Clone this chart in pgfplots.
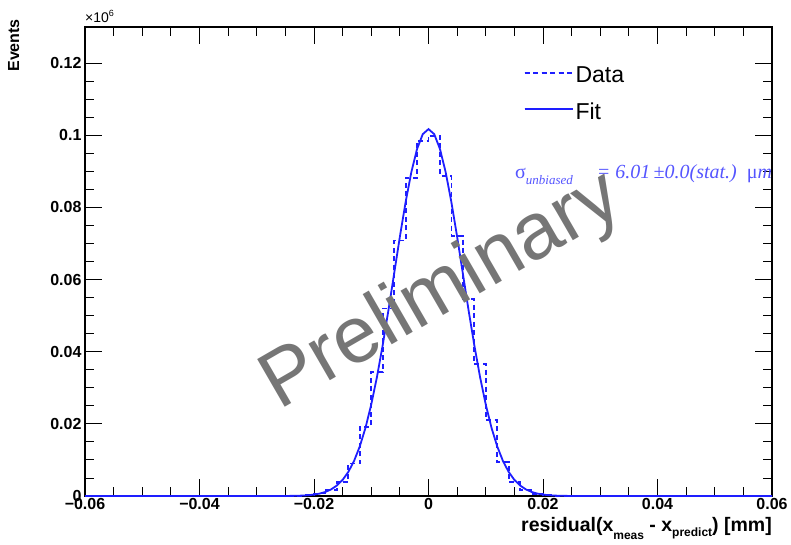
\documentclass[border=0pt]{standalone}
\usepackage{pgfplots}
\pgfplotsset{compat=1.18}
\usepackage{fontspec}
\setmainfont{Liberation Sans}
\newfontfamily\timesfont{Liberation Serif}
\usetikzlibrary{calc}
\definecolor{rootblue}{RGB}{30,30,255}
\definecolor{sigblue}{RGB}{85,85,255}
\definecolor{wmgray}{RGB}{118,118,118}

% residual histogram, left bin edges (bin width 0.002 mm)
\pgfplotstableread{
x y
-0.060 0
-0.026 0.00002
-0.024 0.00008
-0.022 0.00025
-0.020 0.0007
-0.018 0.0017
-0.016 0.0038
-0.014 0.0090
-0.012 0.0192
-0.010 0.0343
-0.008 0.0520
-0.006 0.0708
-0.004 0.0882
-0.002 0.0985
0.000 0.0998
0.002 0.0888
0.004 0.0721
0.006 0.0545
0.008 0.0366
0.010 0.0210
0.012 0.0094
0.014 0.0039
0.016 0.0016
0.018 0.0006
0.020 0.00022
0.022 0.00007
0.024 0.00002
0.026 0
0.060 0
}\histdata

% fitted gaussian, sampled every 0.001 mm
\pgfplotstableread{
x y
-0.060 0
-0.025 0.000017
-0.024 0.000034
-0.023 0.000066
-0.022 0.00012
-0.021 0.00022
-0.020 0.00039
-0.019 0.00068
-0.018 0.00113
-0.017 0.00184
-0.016 0.00291
-0.015 0.00447
-0.014 0.00668
-0.013 0.00973
-0.012 0.01376
-0.011 0.01894
-0.010 0.02536
-0.009 0.03302
-0.008 0.04181
-0.007 0.05149
-0.006 0.06168
-0.005 0.07187
-0.004 0.08144
-0.003 0.08975
-0.002 0.09620
-0.001 0.10030
0.000 0.10170
0.001 0.10030
0.002 0.09620
0.003 0.08975
0.004 0.08144
0.005 0.07187
0.006 0.06168
0.007 0.05149
0.008 0.04181
0.009 0.03302
0.010 0.02536
0.011 0.01894
0.012 0.01376
0.013 0.00973
0.014 0.00668
0.015 0.00447
0.016 0.00291
0.017 0.00184
0.018 0.00113
0.019 0.00068
0.020 0.00039
0.021 0.00022
0.022 0.00012
0.023 0.000066
0.024 0.000034
0.025 0.000017
0.060 0
}\fitdata

\begin{document}
\begin{tikzpicture}
\begin{axis}[
  scale only axis,
  width=687pt, height=469pt,
  xmin=-0.06, xmax=0.06,
  ymin=0, ymax=0.13,
  clip=false,
  scaled ticks=false,
  axis line style={black, line width=1.2pt},
  every tick/.style={black, line width=0.9pt},
  major tick length=17pt,
  minor tick length=9pt,
  xtick={-0.06,-0.04,-0.02,0,0.02,0.04,0.06},
  xticklabels={−0.06,−0.04,−0.02,0,0.02,0.04,0.06},
  ytick={0,0.02,0.04,0.06,0.08,0.1,0.12},
  yticklabels={0,0.02,0.04,0.06,0.08,0.1,0.12},
  minor x tick num=3,
  minor y tick num=3,
  xticklabel style={font=\bfseries\fontsize{16}{16}\selectfont, yshift=1pt},
  yticklabel style={font=\bfseries\fontsize{16}{16}\selectfont},
  legend style={draw=none, fill=none, at={(axis cs:0.0166,0.1195)}, anchor=north west,
    font=\fontsize{23}{23}\selectfont, row sep=14pt, inner sep=0pt,
    nodes={inner sep=2pt}},
  legend cell align=left,
  legend image code/.code={\draw[#1] (0pt,0.45ex) -- (40pt,0.45ex);
    \path (0pt,0.45ex) -- (48pt,0.45ex);},
]
\addplot[const plot, rootblue, line width=1.8pt, dash pattern=on 5pt off 3.5pt]
  table[x=x, y=y] {\histdata};
\addlegendentry{Data}
\addplot[rootblue, line width=1.8pt] table[x=x, y=y] {\fitdata};
\addlegendentry{Fit}

\node[anchor=base west, text=sigblue, inner sep=0pt] at (axis cs:0.0151,0.0880)
  {\timesfont\fontsize{20}{20}\selectfont σ\raisebox{-6pt}{\fontsize{13}{13}\selectfont\itshape unbiased}\hspace{24pt}\itshape = 6.01\,±0.0(stat.)\ \ \upshape μ\itshape m};

\node[rotate=30, text=wmgray, inner sep=0pt] at (axis cs:0.0024,0.0565)
  {\fontsize{80}{80}\selectfont Preliminary};
\end{axis}

\node[anchor=south west, inner sep=0pt] at ($(current axis.north west)+(0pt,4pt)$)
  {\fontsize{14}{14}\selectfont ×10\raisebox{6pt}{\fontsize{9}{9}\selectfont 6}};
\node[rotate=90, anchor=north east, inner sep=0pt, font=\bfseries\fontsize{16}{16}\selectfont]
  at ($(current axis.north west)+(-77pt,8pt)$) {Events};
\node[anchor=base east, inner sep=0pt, font=\bfseries\fontsize{19.5}{19.5}\selectfont]
  at ($(current axis.south east)+(0pt,-35pt)$)
  {residual(x\raisebox{-8pt}{\fontsize{12}{12}\selectfont meas}\ - x\raisebox{-5pt}{\fontsize{12}{12}\selectfont predict}) [mm]};

\pgfresetboundingbox
\path ($(current axis.south west)+(-85pt,-48pt)$) rectangle ($(current axis.north east)+(19pt,27pt)$);
\end{tikzpicture}
\end{document}
